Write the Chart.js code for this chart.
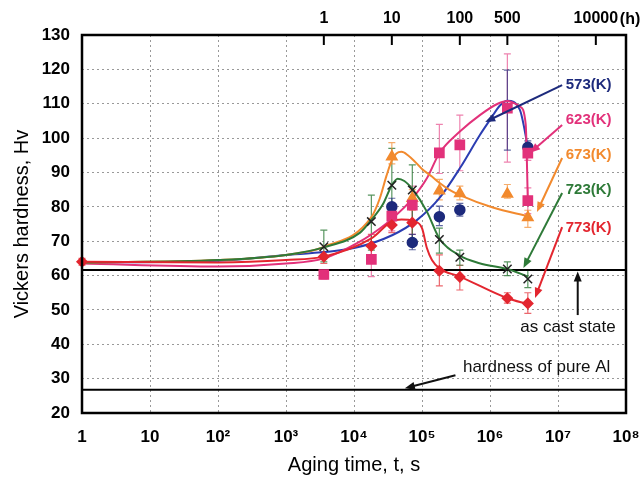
<!DOCTYPE html>
<html>
<head>
<meta charset="utf-8">
<script src="https://cdn.jsdelivr.net/npm/chart.js@4.4.1/dist/chart.umd.min.js"></script>
<style>
  html, body { margin: 0; padding: 0; background: #fff; }
  #wrap { width: 640px; height: 481px; }
</style>
</head>
<body>
<div id="wrap"><canvas id="chart" width="640" height="481"></canvas></div>
<script>
// measured points (aging time in s, Hv) with error bar ends
const t573 = [36000, 72000, 180000, 360000, 1800000, 3600000];
const hv573 = [80.0, 69.6, 77.1, 79.1, 108.5, 97.3];
const lo573 = [77.5, 67.5, 74.5, 77.3, 96.5, 95.5];
const hi573 = [82.5, 72.0, 80.2, 81.0, 119.8, 99.2];

const t623 = [3600, 18000, 36000, 72000, 180000, 360000, 1800000, 3600000, 3600000];
const hv623 = [60.3, 64.7, 77.3, 80.5, 95.7, 98.0, 108.7, 95.6, 81.8];
const lo623 = [59.0, 59.7, 73.0, 72.0, 89.7, 90.5, 93.0, 93.5, 78.0];
const hi623 = [61.6, 69.0, 81.0, 86.0, 104.0, 106.7, 124.5, 97.5, 85.5];

const t673 = [36000, 72000, 180000, 360000, 1800000, 3600000];
const hv673 = [94.6, 82.5, 84.7, 83.9, 83.7, 76.9];
const lo673 = [92.5, 79.0, 82.0, 82.0, 82.5, 74.0];
const hi673 = [98.7, 85.0, 88.0, 86.0, 86.5, 79.0];

const t723 = [3600, 18000, 36000, 72000, 180000, 360000, 1800000, 3600000];
const hv723 = [68.4, 75.7, 86.3, 84.9, 70.5, 65.3, 61.9, 59.0];
const lo723 = [64.0, 67.4, 80.0, 70.3, 66.5, 63.0, 60.0, 56.5];
const hi723 = [73.2, 83.4, 97.0, 92.2, 73.8, 67.4, 64.0, 61.5];

const t773 = [1, 3600, 18000, 36000, 72000, 180000, 360000, 1800000, 3600000];
const hv773 = [64.0, 65.5, 68.6, 74.7, 75.4, 61.4, 59.6, 53.4, 51.9];
const lo773 = [63.0, 63.5, 64.5, 72.5, 70.0, 57.0, 55.8, 52.0, 49.0];
const hi773 = [65.0, 67.0, 72.0, 77.0, 80.0, 66.0, 63.0, 55.0, 55.0];

// fitted curves
const fitT573 = [1, 100, 1000, 10000, 37000, 85000, 180000, 360000, 710000, 1000000, 1400000, 1800000, 2750000, 3600000];
const fitHv573 = [63.8, 64.3, 66.0, 68.0, 71.8, 76.2, 82.5, 91.2, 100.9, 105.3, 109.5, 110.9, 108.2, 97.5];

const fitT623 = [1, 100, 1000, 3600, 12000, 24000, 37000, 66000, 118000, 180000, 360000, 710000, 1300000, 1800000, 2750000, 3350000, 3600000];
const fitHv623 = [63.5, 62.6, 63.5, 65.0, 69.8, 73.7, 76.7, 81.5, 88.3, 95.6, 101.9, 106.7, 110.0, 110.8, 109.2, 104.0, 81.8];

const fitT673 = [1, 100, 1000, 3600, 18000, 24000, 30000, 36000, 42000, 50000, 62000, 80000, 100000, 140000, 180000, 250000, 360000, 1100000, 3600000];
const fitHv673 = [63.8, 64.5, 66.0, 68.3, 77.0, 82.5, 89.0, 93.5, 95.5, 96.0, 95.0, 93.0, 91.0, 88.8, 87.0, 85.0, 83.4, 79.8, 77.3];

const fitT723 = [1, 100, 1000, 3600, 12300, 18000, 27000, 36000, 44000, 55000, 74000, 118000, 180000, 360000, 700000, 1800000, 3600000];
const fitHv723 = [63.8, 64.5, 66.0, 68.2, 72.5, 76.2, 81.0, 86.3, 88.2, 87.5, 84.9, 78.6, 70.8, 65.8, 63.6, 61.9, 59.7];

const fitT773 = [1, 100, 1000, 3600, 18000, 36000, 50000, 74000, 100000, 118000, 140000, 180000, 360000, 1800000, 3600000];
const fitHv773 = [64.0, 63.8, 64.5, 65.5, 70.8, 75.8, 76.3, 75.9, 73.8, 68.0, 64.5, 62.1, 59.7, 53.4, 51.7];

// reference levels
const asCastHv = 61.6;
const pureAlHv = 26.8;
const lineSpan = [1, 1e8];

// axes
const xTicks = [1, 10, 1e2, 1e3, 1e4, 1e5, 1e6, 1e7, 1e8];
const xTickLabels = ['1', '10', '10²', '10³', '10⁴', '10⁵', '10⁶', '10⁷', '10⁸'];
const yTicks = [20, 30, 40, 50, 60, 70, 80, 90, 100, 110, 120, 130];
const hourTicks = [1, 10, 100, 500, 10000];
const hourLabels = ['1', '10', '100', '500', '10000'];

const NAVY = '#1d2a7c', BLUE = '#2b3db2', PINK = '#e2317a', ORANGE = '#f28a2e', GREEN = '#2e7a38', RED = '#e3262f';

// labels and arrows, in data coordinates (s, Hv)
const notes = [
  { text: '573(K)', x: 1.3e7, y: 115.4, color: NAVY, weight: 'bold' },
  { text: '623(K)', x: 1.3e7, y: 105.3, color: PINK, weight: 'bold' },
  { text: '673(K)', x: 1.3e7, y: 95.1, color: ORANGE, weight: 'bold' },
  { text: '723(K)', x: 1.3e7, y: 84.9, color: GREEN, weight: 'bold' },
  { text: '773(K)', x: 1.3e7, y: 73.8, color: RED, weight: 'bold' },
  { text: 'as cast state', x: 1.4e7, y: 45.0, color: '#111', align: 'center', size: 17 },
  { text: 'hardness of pure Al', x: 4.0e5, y: 33.4, color: '#111', size: 17 }
];
const arrows = [
  { from: [1.15e7, 115.4], to: [8.5e5, 104.7], color: NAVY },
  { from: [1.15e7, 103.8], to: [3.9e6, 95.7], color: PINK },
  { from: [1.15e7, 94.2], to: [4.9e6, 78.5], color: ORANGE },
  { from: [1.15e7, 84.0], to: [3.1e6, 62.2], color: GREEN },
  { from: [1.15e7, 74.1], to: [4.6e6, 53.5], color: RED },
  { from: [1.95e7, 48.5], to: [1.95e7, 61.2], color: '#111' },
  { from: [3.1e5, 31.0], to: [5.6e4, 27.2], color: '#111' }
];

Chart.defaults.font.family = '"Liberation Sans", Arial, sans-serif';

const pts = (t, v) => t.map((x, i) => ({ x: x, y: v[i] }));

function curve(t, v, color) {
  return { data: pts(t, v), showLine: true, borderColor: color, borderWidth: 2,
    pointRadius: 0, cubicInterpolationMode: 'monotone', order: 2 };
}

function marks(t, v, lo, hi, style, fill, edge, radius, errColor) {
  return { data: pts(t, v), pointStyle: style, pointRadius: radius,
    backgroundColor: fill, borderColor: edge, borderWidth: 1.5,
    errLo: lo, errHi: hi, errColor: errColor, clip: false, order: 0 };
}

function refLine(v) {
  return { data: lineSpan.map(x => ({ x: x, y: v })), showLine: true,
    borderColor: '#000', borderWidth: 2, pointRadius: 0, order: 3 };
}

const errorBars = {
  id: 'errorBars',
  beforeDatasetsDraw(chart) {
    const ctx = chart.ctx, y = chart.scales.y, x = chart.scales.x;
    chart.data.datasets.forEach(ds => {
      if (!ds.errLo) return;
      ctx.save();
      ctx.strokeStyle = ds.errColor;
      ctx.lineWidth = 1.2;
      ds.data.forEach((p, i) => {
        const px = x.getPixelForValue(p.x);
        const y1 = y.getPixelForValue(ds.errLo[i]);
        const y2 = y.getPixelForValue(ds.errHi[i]);
        ctx.beginPath();
        ctx.moveTo(px, y1); ctx.lineTo(px, y2);
        ctx.moveTo(px - 3.5, y1); ctx.lineTo(px + 3.5, y1);
        ctx.moveTo(px - 3.5, y2); ctx.lineTo(px + 3.5, y2);
        ctx.stroke();
      });
      ctx.restore();
    });
  }
};

function drawArrow(ctx, x1, y1, x2, y2, color) {
  const a = Math.atan2(y2 - y1, x2 - x1), len = 10, w = 4;
  ctx.save();
  ctx.strokeStyle = color; ctx.fillStyle = color; ctx.lineWidth = 2;
  ctx.beginPath();
  ctx.moveTo(x1, y1);
  ctx.lineTo(x2 - Math.cos(a) * len * 0.8, y2 - Math.sin(a) * len * 0.8);
  ctx.stroke();
  ctx.beginPath();
  ctx.moveTo(x2, y2);
  ctx.lineTo(x2 - Math.cos(a) * len - Math.sin(a) * w, y2 - Math.sin(a) * len + Math.cos(a) * w);
  ctx.lineTo(x2 - Math.cos(a) * len + Math.sin(a) * w, y2 - Math.sin(a) * len - Math.cos(a) * w);
  ctx.closePath();
  ctx.fill();
  ctx.restore();
}

const decorations = {
  id: 'decorations',
  afterDraw(chart) {
    const ctx = chart.ctx, a = chart.chartArea;
    const x = chart.scales.x, y = chart.scales.y, x2 = chart.scales.x2;

    // plot frame
    ctx.save();
    ctx.strokeStyle = '#000';
    ctx.lineWidth = 2.5;
    ctx.strokeRect(a.left, a.top, a.right - a.left, a.bottom - a.top);

    // inward ticks of the hours axis
    ctx.lineWidth = 2;
    hourTicks.forEach(h => {
      const px = x2.getPixelForValue(h);
      ctx.beginPath();
      ctx.moveTo(px, a.top); ctx.lineTo(px, a.top + 10);
      ctx.stroke();
    });
    const last = x2.getPixelForValue(hourTicks[hourTicks.length - 1]);
    ctx.font = 'bold 16px "Liberation Sans", Arial, sans-serif';
    ctx.fillStyle = '#000';
    ctx.textBaseline = 'middle';
    ctx.textAlign = 'left';
    ctx.fillText('(h)', last + 24, a.top - 15);
    ctx.restore();

    arrows.forEach(r => drawArrow(ctx,
      x.getPixelForValue(r.from[0]), y.getPixelForValue(r.from[1]),
      x.getPixelForValue(r.to[0]), y.getPixelForValue(r.to[1]), r.color));

    ctx.save();
    ctx.textBaseline = 'middle';
    notes.forEach(n => {
      ctx.font = (n.weight || 'normal') + ' ' + (n.size || 15) + 'px "Liberation Sans", Arial, sans-serif';
      ctx.fillStyle = n.color;
      ctx.textAlign = n.align || 'left';
      ctx.fillText(n.text, x.getPixelForValue(n.x), y.getPixelForValue(n.y));
    });
    ctx.restore();
  }
};

const gridLook = { color: '#999', lineWidth: 1, drawTicks: false };

// let the layout use the padding below only
const noEdgePad = s => { s.paddingLeft = 0; s.paddingRight = 0; };

new Chart(document.getElementById('chart'), {
  type: 'scatter',
  data: {
    datasets: [
      marks(t773, hv773, lo773, hi773, 'rectRot', RED, RED, 5, 'rgba(227,38,47,0.7)'),
      marks(t623, hv623, lo623, hi623, 'rect', PINK, PINK, 6.5, 'rgba(226,49,122,0.6)'),
      marks(t723, hv723, lo723, hi723, 'crossRot', '#222', '#222', 6, 'rgba(46,122,56,0.8)'),
      marks(t673, hv673, lo673, hi673, 'triangle', ORANGE, ORANGE, 6, 'rgba(242,138,46,0.7)'),
      Object.assign(marks(t573, hv573, lo573, hi573, 'circle', NAVY, NAVY, 5, 'rgba(29,42,124,0.7)'),
        { pointRadius: [5, 5, 5, 5, 0, 5] }),
      curve(fitT773, fitHv773, RED),
      curve(fitT723, fitHv723, GREEN),
      curve(fitT673, fitHv673, ORANGE),
      curve(fitT623, fitHv623, PINK),
      curve(fitT573, fitHv573, BLUE),
      refLine(asCastHv),
      refLine(pureAlHv)
    ]
  },
  options: {
    responsive: false,
    animation: false,
    layout: { padding: { left: 0, right: 14, top: 0, bottom: 0 } },
    plugins: { legend: { display: false }, tooltip: { enabled: false } },
    scales: {
      x: {
        type: 'logarithmic', position: 'bottom', min: 1, max: 1e8,
        afterBuildTicks: s => { s.ticks = xTicks.map(v => ({ value: v })); },
        afterFit: s => { s.height = 68; noEdgePad(s); },
        ticks: { autoSkip: false, maxRotation: 0, padding: 14, color: '#000',
          font: { size: 17, weight: 'bold' }, callback: (v, i) => xTickLabels[i] },
        grid: gridLook,
        border: { display: false, dash: [2, 3] },
        title: { display: true, text: 'Aging time, t, s', color: '#000',
          font: { size: 20 }, padding: { top: 0, bottom: 4 } }
      },
      x2: {
        type: 'logarithmic', position: 'top', min: 1 / 3600, max: 1e8 / 3600,
        afterBuildTicks: s => { s.ticks = hourTicks.map(v => ({ value: v })); },
        afterFit: s => { s.height = 35; noEdgePad(s); },
        ticks: { autoSkip: false, maxRotation: 0, padding: 7, color: '#000',
          font: { size: 16, weight: 'bold' }, callback: (v, i) => hourLabels[i] },
        grid: { drawOnChartArea: false, drawTicks: false },
        border: { display: false }
      },
      y: {
        type: 'linear', min: 20, max: 130,
        afterBuildTicks: s => { s.ticks = yTicks.map(v => ({ value: v })); },
        afterFit: s => { s.width = 82; },
        ticks: { padding: 12, color: '#000', font: { size: 17, weight: 'bold' } },
        grid: gridLook,
        border: { display: false, dash: [2, 3] },
        title: { display: true, text: 'Vickers hardness, Hv', color: '#000',
          font: { size: 20 }, padding: { top: 10, bottom: 0 } }
      }
    }
  },
  plugins: [errorBars, decorations]
});
</script>
</body>
</html>
